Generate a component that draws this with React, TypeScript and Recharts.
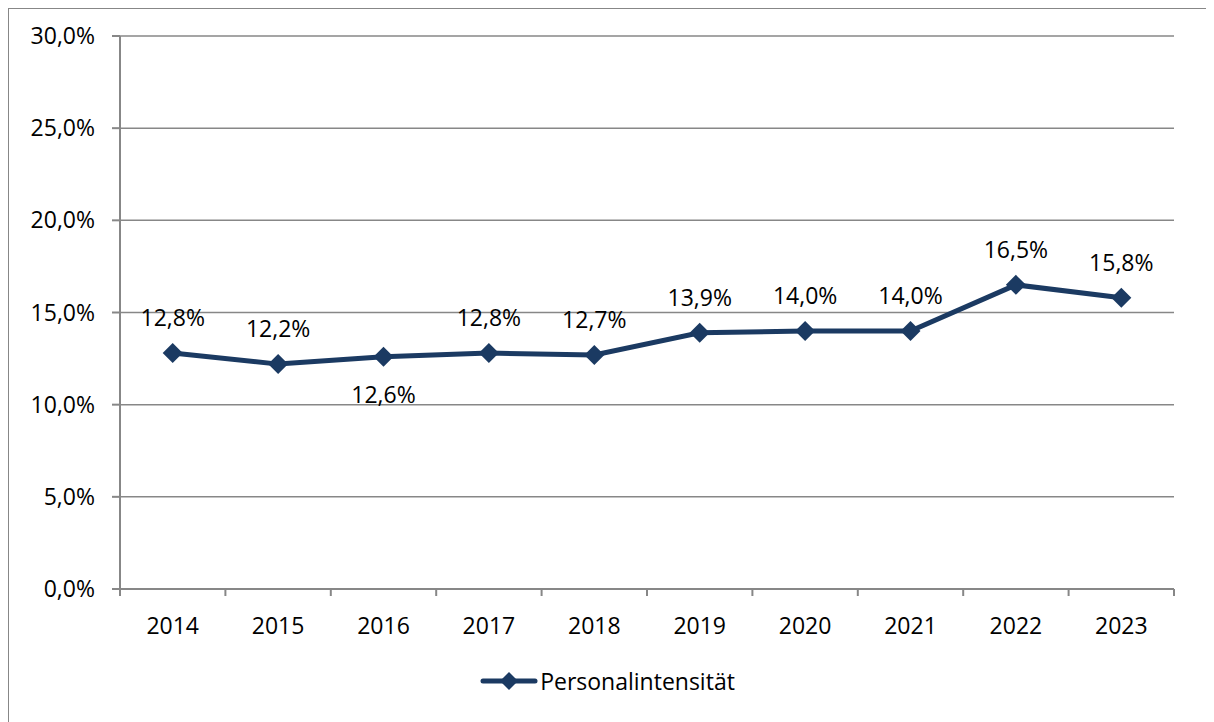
import { LineChart, Line, XAxis, YAxis, CartesianGrid, LabelList, Legend } from "recharts";

const years = ["2014", "2015", "2016", "2017", "2018", "2019", "2020", "2021", "2022", "2023"];
const personal = [12.8, 12.2, 12.6, 12.8, 12.7, 13.9, 14.0, 14.0, 16.5, 15.8];
const yTicks = [0, 5, 10, 15, 20, 25, 30];
const belowLabels = [2];

const data = years.map((year, i) => ({ pos: i + 0.5, year, value: personal[i] }));
const boundaryTicks = years.map((_, i) => i).concat(years.length);
const centerTicks = years.map((_, i) => i + 0.5);

const NAVY = "#1B3A62";
const GRID = "#878787";
const FONT = "'Open Sans', sans-serif";
const FS = 23;

const fmt = (v: number) => v.toFixed(1).replace(".", ",") + "%";

const Diamond = (props: any) => {
  const { cx, cy } = props;
  if (cx == null || cy == null) return null;
  const r = 10;
  return (
    <polygon
      points={`${cx},${cy - r} ${cx + r},${cy} ${cx},${cy + r} ${cx - r},${cy}`}
      fill={NAVY}
    />
  );
};

const ValueLabel = (props: any) => {
  const { x, y, index, value } = props;
  const below = belowLabels.includes(index);
  return (
    <text
      x={x}
      y={below ? y + 37 : y - 36}
      textAnchor="middle"
      dominantBaseline="central"
      fill="#000"
      fontSize={FS}
      fontFamily={FONT}
    >
      {fmt(value)}
    </text>
  );
};

const LegendContent = () => (
  <div style={{ display: "flex", justifyContent: "center", alignItems: "center", paddingLeft: 32 }}>
    <svg width={58} height={22} style={{ marginRight: 2 }}>
      <line x1={3} y1={11} x2={55} y2={11} stroke={NAVY} strokeWidth={5} strokeLinecap="round" />
      <polygon points="29,2 38,11 29,20 20,11" fill={NAVY} />
    </svg>
    <span style={{ fontFamily: FONT, fontSize: FS, color: "#000", lineHeight: "24px" }}>
      Personalintensität
    </span>
  </div>
);

export default function App() {
  return (
    <div
      style={{
        width: 1206,
        height: 714,
        borderLeft: `1px solid ${GRID}`,
        borderTop: `1px solid ${GRID}`,
        boxSizing: "border-box",
        background: "#fff",
      }}
    >
      <LineChart
        width={1205}
        height={713}
        data={data}
        margin={{ top: 27, right: 40, left: 0, bottom: 0 }}
      >
        <CartesianGrid vertical={false} stroke={GRID} strokeWidth={1.5} xAxisId="grid" />
        <XAxis
          xAxisId="grid"
          dataKey="pos"
          type="number"
          domain={[0, years.length]}
          ticks={boundaryTicks}
          tickFormatter={() => ""}
          stroke={GRID}
          strokeWidth={2}
          tickSize={7}
          height={8}
          interval={0}
        />
        <XAxis
          xAxisId="labels"
          dataKey="pos"
          type="number"
          domain={[0, years.length]}
          ticks={centerTicks}
          tickFormatter={(v: number) => years[Math.round(v - 0.5)]}
          axisLine={false}
          tickLine={false}
          tickSize={0}
          tickMargin={21}
          height={101}
          interval={0}
          tick={{ fill: "#000", fontSize: FS, fontFamily: FONT }}
        />
        <YAxis
          domain={[0, 30]}
          ticks={yTicks}
          tickFormatter={fmt}
          width={111}
          stroke={GRID}
          strokeWidth={2}
          tickSize={8}
          tickMargin={17}
          interval={0}
          tick={{ fill: "#000", fontSize: FS, fontFamily: FONT }}
        />
        <Legend
          verticalAlign="bottom"
          content={<LegendContent />}
          wrapperStyle={{ bottom: 29 }}
        />
        <Line
          xAxisId="grid"
          dataKey="value"
          stroke={NAVY}
          strokeWidth={5}
          dot={<Diamond />}
          activeDot={false}
          isAnimationActive={false}
        >
          <LabelList dataKey="value" content={<ValueLabel />} />
        </Line>
      </LineChart>
    </div>
  );
}
